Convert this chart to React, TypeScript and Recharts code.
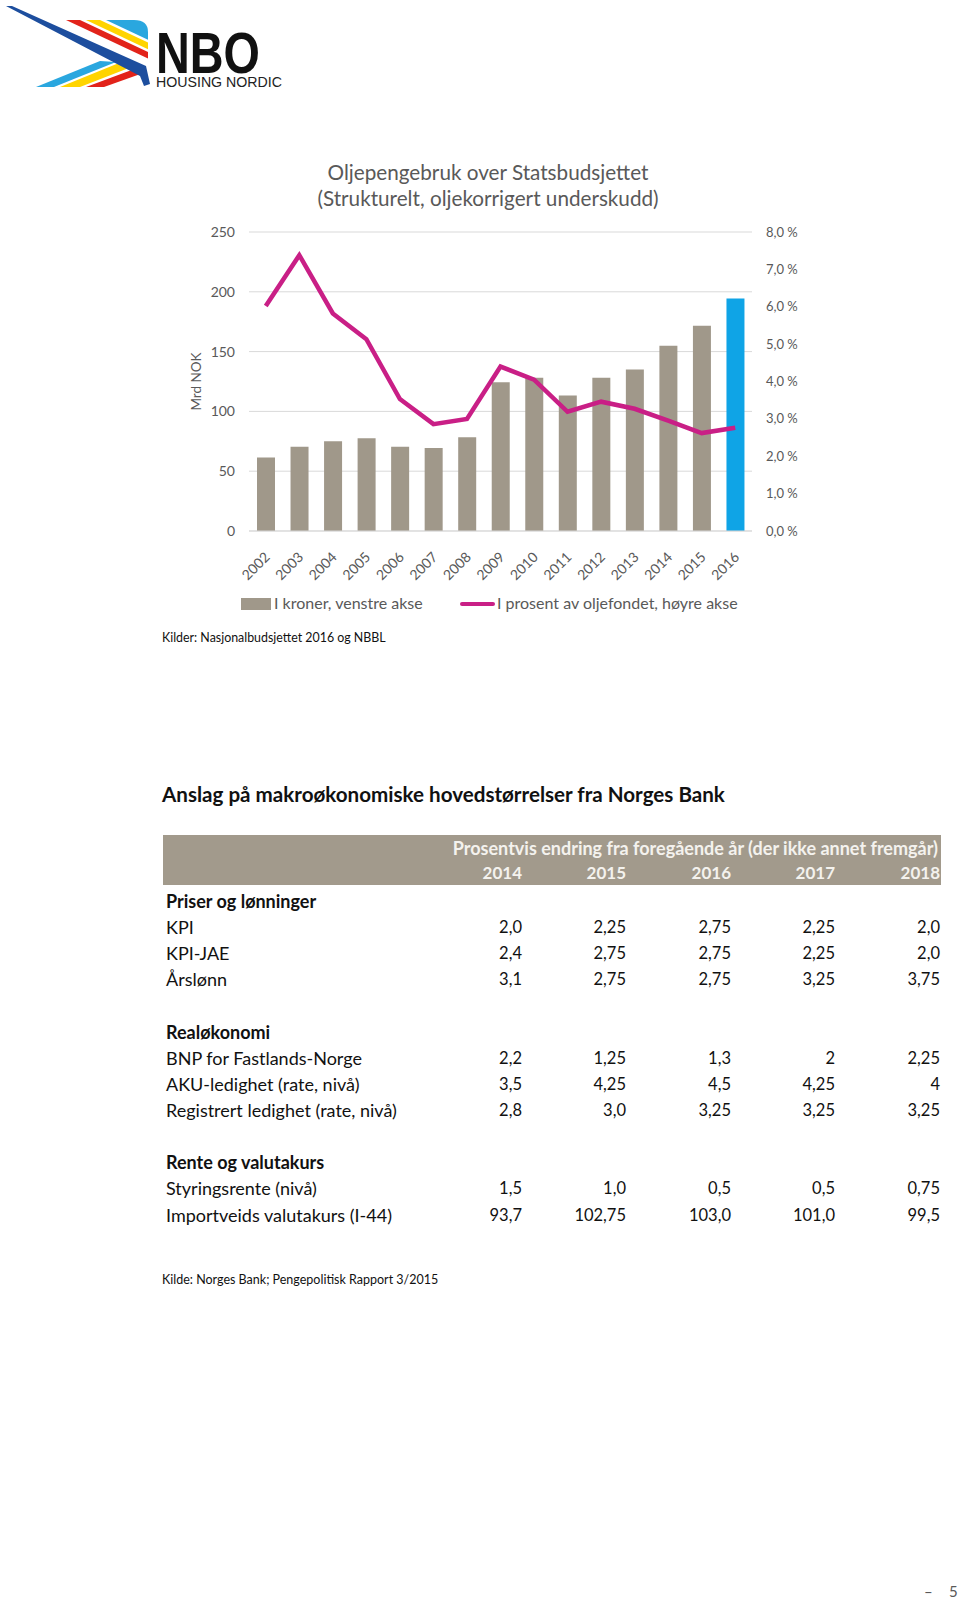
import { ComposedChart, Bar, Line, XAxis, YAxis, CartesianGrid, Cell } from 'recharts'

const FONT = 'Lato, "Open Sans", sans-serif'
const GREY_TEXT = '#595959'

const years = ['2002', '2003', '2004', '2005', '2006', '2007', '2008', '2009', '2010', '2011', '2012', '2013', '2014', '2015', '2016']
const kroner = [61.5, 70.4, 75.1, 77.6, 70.4, 69.5, 78.4, 124.3, 128.2, 113.2, 128.2, 135.1, 154.9, 171.6, 194.4]
const prosent = [6.02, 7.38, 5.82, 5.13, 3.53, 2.86, 3.0, 4.4, 4.05, 3.19, 3.46, 3.27, 2.95, 2.62, 2.76]
const leftTicks = [0, 50, 100, 150, 200, 250]
const rightTicks = [0, 1, 2, 3, 4, 5, 6, 7, 8]

const tableYears = ['2014', '2015', '2016', '2017', '2018']
const kpi = ['2,0', '2,25', '2,75', '2,25', '2,0']
const kpiJae = ['2,4', '2,75', '2,75', '2,25', '2,0']
const arslonn = ['3,1', '2,75', '2,75', '3,25', '3,75']
const bnp = ['2,2', '1,25', '1,3', '2', '2,25']
const aku = ['3,5', '4,25', '4,5', '4,25', '4']
const registrert = ['2,8', '3,0', '3,25', '3,25', '3,25']
const styringsrente = ['1,5', '1,0', '0,5', '0,5', '0,75']
const importveids = ['93,7', '102,75', '103,0', '101,0', '99,5']

const tableRows: { label: string; values?: string[]; bold?: boolean }[] = [
  { label: 'Priser og lønninger', bold: true },
  { label: 'KPI', values: kpi },
  { label: 'KPI-JAE', values: kpiJae },
  { label: 'Årslønn', values: arslonn },
  { label: '' },
  { label: 'Realøkonomi', bold: true },
  { label: 'BNP for Fastlands-Norge', values: bnp },
  { label: 'AKU-ledighet (rate, nivå)', values: aku },
  { label: 'Registrert ledighet (rate, nivå)', values: registrert },
  { label: '' },
  { label: 'Rente og valutakurs', bold: true },
  { label: 'Styringsrente (nivå)', values: styringsrente },
  { label: 'Importveids valutakurs (I-44)', values: importveids },
]

const chartData = years.map((y, i) => ({ year: y, kroner: kroner[i], prosent: prosent[i] }))

const colRight = [522, 626, 731, 835, 940]

function YearTick(props: any) {
  const { x, y, payload } = props
  return (
    <g transform={`translate(${x + 5},${y + 27})`}>
      <text x={0} y={0} textAnchor="end" transform="rotate(-45)" fill={GREY_TEXT} fontSize={14} fontFamily={FONT}>
        {payload.value}
      </text>
    </g>
  )
}

function Logo() {
  return (
    <svg width={300} height={100} style={{ position: 'absolute', left: 0, top: 0 }}>
      {/* top stripes */}
      <polygon points="66,20 80,20 148,52 148,58.5" fill="#E2231A" />
      <polygon points="86,20 100,20 148,42.6 148,49.2" fill="#FFD400" />
      <path d="M106,20 L134,20 Q148,20 148,32 L148,39.7 Z" fill="#2AA7DF" />
      {/* bottom stripes */}
      <polygon points="36,87 54,87 116,62 100,61" fill="#2AA7DF" />
      <polygon points="60,87 80,87 134,66 119,63" fill="#FFD400" />
      <polygon points="86,87 104,87 146,72 137,68" fill="#E2231A" />
      {/* swoosh */}
      <polygon points="6,6 12,6 146,66 150,84 144,86 140,76" fill="#1D4E9E" />
      <text fontFamily='"Liberation Sans", Arial, sans-serif'>
        <tspan x={156} y={73} fontSize={58} fontWeight={700} textLength={104} lengthAdjust="spacingAndGlyphs" fill="#111">NBO</tspan>
        <tspan x={156} y={87} fontSize={15} textLength={126} lengthAdjust="spacingAndGlyphs" fill="#222">HOUSING NORDIC</tspan>
      </text>
    </svg>
  )
}

export default function App() {
  const rowCenter = (i: number) => 900.8 + i * 26.15
  return (
    <div style={{ position: 'absolute', left: 0, top: 0, width: 960, height: 1602, background: '#fff', fontFamily: FONT, overflow: 'hidden' }}>
      <Logo />

      <div style={{ position: 'absolute', left: 188, width: 600, top: 159, textAlign: 'center', color: GREY_TEXT, fontSize: 20.7, lineHeight: '26px' }}>
        Oljepengebruk over Statsbudsjettet<br />(Strukturelt, oljekorrigert underskudd)
      </div>

      <div style={{ position: 'absolute', left: 0, top: 0 }}>
        <ComposedChart width={960} height={640} data={chartData} margin={{ top: 232, right: 148, left: 189, bottom: 69 }}>
          <CartesianGrid yAxisId="left" vertical={false} stroke="#D9D9D9" />
          <XAxis dataKey="year" height={40} tickLine={false} axisLine={{ stroke: '#D9D9D9' }} tickSize={0} tickMargin={0} tick={<YearTick />} interval={0} />
          <YAxis yAxisId="left" width={60} domain={[0, 250]} ticks={leftTicks} axisLine={false} tickLine={false} tickSize={0} tickMargin={14}
            tick={{ fill: GREY_TEXT, fontSize: 14, fontFamily: FONT }}
            label={{ value: 'Mrd NOK', angle: -90, position: 'insideLeft', offset: 7, style: { textAnchor: 'middle', fill: GREY_TEXT, fontSize: 13.5, fontFamily: FONT } }} />
          <YAxis yAxisId="right" orientation="right" width={60} domain={[0, 8]} ticks={rightTicks} axisLine={false} tickLine={false} tickSize={0} tickMargin={14}
            tick={{ fill: GREY_TEXT, fontSize: 13, fontFamily: FONT }}
            tickFormatter={(v: number) => v.toFixed(1).replace('.', ',') + ' %'} />
          <Bar yAxisId="left" dataKey="kroner" barSize={18} isAnimationActive={false}>
            {chartData.map((d, i) => (
              <Cell key={d.year} fill={i === chartData.length - 1 ? '#0FA4E6' : '#A0988A'} />
            ))}
          </Bar>
          <Line yAxisId="right" dataKey="prosent" type="linear" stroke="#C91F86" strokeWidth={4.5} dot={false} isAnimationActive={false} />
        </ComposedChart>
      </div>

      {/* legend */}
      <div style={{ position: 'absolute', left: 241, top: 598, width: 30, height: 12, background: '#A0988A' }} />
      <div style={{ position: 'absolute', left: 274, top: 593, fontSize: 16, color: GREY_TEXT, lineHeight: '20px' }}>I kroner, venstre akse</div>
      <div style={{ position: 'absolute', left: 460, top: 602, width: 35, height: 4, borderRadius: 2, background: '#C91F86' }} />
      <div style={{ position: 'absolute', left: 497, top: 593, fontSize: 16, color: GREY_TEXT, lineHeight: '20px' }}>I prosent av oljefondet, høyre akse</div>

      <div style={{ position: 'absolute', left: 162, top: 630, fontSize: 12.4, color: '#111', lineHeight: '16px' }}>Kilder: Nasjonalbudsjettet 2016 og NBBL</div>

      <div style={{ position: 'absolute', left: 162, top: 781, fontSize: 20.6, fontWeight: 700, color: '#111', lineHeight: '26px' }}>
        Anslag på makroøkonomiske hovedstørrelser fra Norges Bank
      </div>

      {/* table header */}
      <div style={{ position: 'absolute', left: 163, top: 835, width: 778, height: 50, background: '#A29A8C' }} />
      <div style={{ position: 'absolute', right: 960 - 938, top: 837, fontSize: 18, fontWeight: 700, color: '#F4F2EE', lineHeight: '22px', whiteSpace: 'nowrap' }}>
        Prosentvis endring fra foregående år (der ikke annet fremgår)
      </div>
      {tableYears.map((y, i) => (
        <div key={y} style={{ position: 'absolute', right: 960 - colRight[i], top: 862, fontSize: 17, fontWeight: 700, color: '#F4F2EE', lineHeight: '22px' }}>{y}</div>
      ))}

      {tableRows.map((r, i) => (
        <div key={i}>
          <div style={{ position: 'absolute', left: 166, top: rowCenter(i) - 11, fontSize: 18, fontWeight: r.bold ? 700 : 400, color: '#111', lineHeight: '22px', whiteSpace: 'nowrap' }}>{r.label}</div>
          {r.values && r.values.map((v, j) => (
            <div key={j} style={{ position: 'absolute', right: 960 - colRight[j], top: rowCenter(i) - 11, fontSize: 16.5, color: '#111', lineHeight: '22px' }}>{v}</div>
          ))}
        </div>
      ))}

      <div style={{ position: 'absolute', left: 162, top: 1272, fontSize: 12.5, color: '#111', lineHeight: '16px' }}>Kilde: Norges Bank; Pengepolitisk Rapport 3/2015</div>

      <div style={{ position: 'absolute', left: 924, top: 1582, fontSize: 15, color: GREY_TEXT, lineHeight: '18px' }}>–</div>
      <div style={{ position: 'absolute', left: 949, top: 1582, fontSize: 15, color: GREY_TEXT, lineHeight: '18px' }}>5</div>
    </div>
  )
}
